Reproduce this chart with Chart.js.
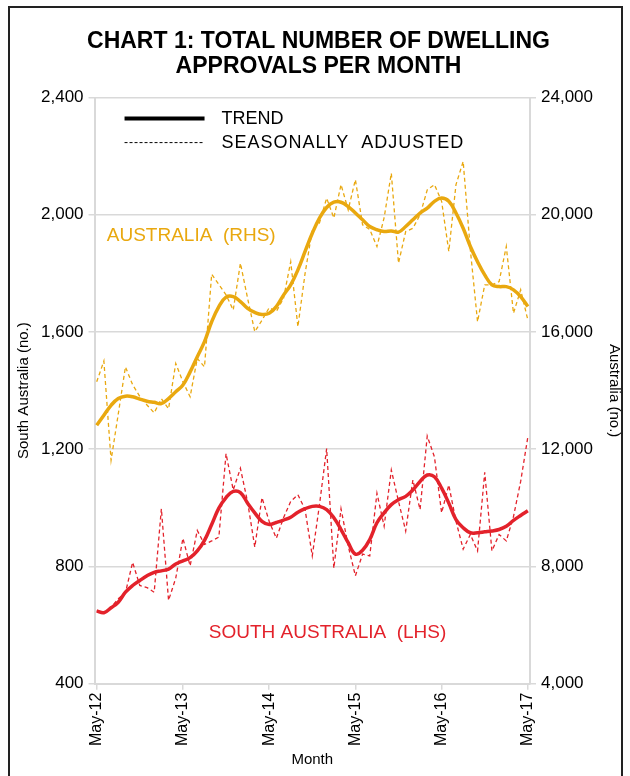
<!DOCTYPE html>
<html>
<head>
<meta charset="utf-8">
<script src="https://cdn.jsdelivr.net/npm/chart.js@4.4.1/dist/chart.umd.min.js"></script>
<style>
  body { margin: 0; background: #fff; }
  #wrap { position: relative; width: 630px; height: 776px; overflow: hidden; }
  #frame { position: absolute; left: 8px; top: 6px; width: 611px; height: 800px; border: 2px solid #222; }
  #myChart { position: absolute; left: 0; top: 0; }
</style>
</head>
<body>
<div id="wrap">
  <div id="frame"></div>
  <canvas id="myChart" width="630" height="776"></canvas>
</div>
<script>
document.addEventListener('DOMContentLoaded', function() {

    //month ticks shown on the x axis (one every 12 months, May-12 .. May-17)
    let xTickLabels = ['May-12', 'May-13', 'May-14', 'May-15', 'May-16', 'May-17'];

    //south australia (LHS), monthly May-12 .. May-17
    let saTrend = [648, 642, 659, 678, 712, 735, 752, 768, 780, 785,
        791, 808, 819, 830, 853, 889, 943, 999, 1035, 1056,
        1052, 1016, 983, 954, 943, 950, 958, 968, 985, 997,
        1005, 1005, 994, 966, 926, 881, 842, 855, 892, 949,
        983, 1011, 1028, 1039, 1061, 1090, 1112, 1106, 1067, 1016,
        960, 932, 915, 915, 918, 921, 926, 937, 957, 974,
        990];
    let saAdjusted = [648, 640, 660, 690, 710, 814, 735, 728, 712, 997,
        684, 760, 896, 802, 923, 875, 887, 900, 1185, 1061,
        1135, 1020, 866, 1035, 954, 896, 966, 1022, 1045, 994,
        836, 1010, 1202, 794, 997, 870, 768, 842, 836, 1050,
        937, 1129, 1022, 921, 1095, 994, 1245, 1174, 983, 1078,
        954, 859, 909, 853, 1121, 853, 909, 887, 970, 1090,
        1242];

    //australia (RHS)
    let ausTrend = [12820, 13160, 13500, 13730, 13810, 13790, 13710, 13640, 13600, 13560,
        13730, 13960, 14190, 14640, 15160, 15670, 16350, 16870, 17190, 17210,
        17040, 16810, 16670, 16600, 16640, 16870, 17260, 17610, 18120, 18750,
        19370, 19890, 20250, 20430, 20430, 20280, 20060, 19830, 19600, 19490,
        19430, 19450, 19410, 19600, 19830, 20060, 20230, 20460, 20570, 20460,
        20060, 19540, 18920, 18400, 17950, 17610, 17550, 17550, 17440, 17210,
        16870];
    let ausAdjusted = [14300, 15010, 11620, 13200, 14810, 14200, 13800, 13510, 13240, 13720,
        13380, 14930, 14300, 13790, 15100, 14810, 17970, 17620, 17270, 16750,
        18350, 17150, 16010, 16400, 16830, 16700, 17150, 18400, 16180, 18000,
        19490, 19720, 20570, 19890, 21030, 20170, 21200, 19660, 19500, 18920,
        19900, 21420, 18350, 19430, 19540, 20000, 20850, 21030, 20460, 18750,
        21030, 21820, 18800, 16350, 17610, 17610, 17720, 18920, 16640, 17440,
        16410];

    let orange = '#E9A80F';
    let red = '#E3222B';
    let gridGrey = '#D9D9D9';
    let font = 'Liberation Sans';

    //turn a plain list into {x: month index, y: value}
    function toPoints(values) {
        return values.map((v, i) => ({ x: i, y: v }));
    }

    //legend and series labels drawn inside the plot
    let labelsPlugin = {
        id: 'labelsPlugin',
        afterDatasetsDraw(chart) {
            let ctx = chart.ctx;
            let area = chart.chartArea;
            let xs = chart.scales.x;
            ctx.save();

            //legend
            let lx1 = area.left + 30, lx2 = area.left + 110;
            ctx.strokeStyle = '#000';
            ctx.lineWidth = 4;
            ctx.beginPath();
            ctx.moveTo(lx1, area.top + 21);
            ctx.lineTo(lx2, area.top + 21);
            ctx.stroke();
            ctx.lineWidth = 1;
            ctx.setLineDash([3, 2]);
            ctx.beginPath();
            ctx.moveTo(lx1, area.top + 45);
            ctx.lineTo(lx2, area.top + 45);
            ctx.stroke();
            ctx.setLineDash([]);
            ctx.fillStyle = '#000';
            ctx.font = '18px "' + font + '"';
            ctx.textBaseline = 'middle';
            ctx.fillText('TREND', lx2 + 17, area.top + 21);
            ctx.letterSpacing = '1px';
            ctx.fillText('SEASONALLY  ADJUSTED', lx2 + 17, area.top + 45);
            ctx.letterSpacing = '0px';

            //series names
            ctx.font = '19px "' + font + '"';
            ctx.fillStyle = orange;
            ctx.fillText('AUSTRALIA  (RHS)', xs.getPixelForValue(1.4), chart.scales.y1.getPixelForValue(19300));
            ctx.fillStyle = red;
            ctx.fillText('SOUTH AUSTRALIA  (LHS)', xs.getPixelForValue(15.6), chart.scales.y.getPixelForValue(575));
            ctx.restore();
        }
    };

    let ctx = document.getElementById('myChart').getContext('2d');

    let myChart = new Chart(ctx, {
        type: 'line',
        data: {
            datasets: [
                { label: 'Australia trend', data: toPoints(ausTrend), yAxisID: 'y1', borderColor: orange, borderWidth: 3.5, tension: 0.4, pointRadius: 0 },
                { label: 'Australia seasonally adjusted', data: toPoints(ausAdjusted), yAxisID: 'y1', borderColor: orange, borderWidth: 1.3, borderDash: [4, 3], tension: 0, pointRadius: 0 },
                { label: 'SA trend', data: toPoints(saTrend), yAxisID: 'y', borderColor: red, borderWidth: 3.5, tension: 0.4, pointRadius: 0 },
                { label: 'SA seasonally adjusted', data: toPoints(saAdjusted), yAxisID: 'y', borderColor: red, borderWidth: 1.3, borderDash: [4, 3], tension: 0, pointRadius: 0 }
            ]
        },
        options: {
            responsive: false,
            animation: false,
            layout: { padding: { left: 11, right: 4, top: 0, bottom: 7 } },
            plugins: {
                legend: { display: false },
                tooltip: { enabled: false },
                title: {
                    display: true,
                    text: ['CHART 1: TOTAL NUMBER OF DWELLING', 'APPROVALS PER MONTH'],
                    color: '#000',
                    font: { family: font, size: 23, weight: 'bold', lineHeight: 1.1 },
                    padding: { top: 29, bottom: 18 }
                }
            },
            scales: {
                x: {
                    type: 'linear',
                    min: -0.3,
                    max: 60.3,
                    afterBuildTicks: (axis) => {
                        axis.ticks = xTickLabels.map((t, i) => ({ value: i * 12 }));
                    },
                    ticks: {
                        autoSkip: false,
                        maxRotation: 90,
                        minRotation: 90,
                        color: '#000',
                        font: { family: font, size: 16 },
                        callback: (v) => xTickLabels[Math.round(v / 12)]
                    },
                    grid: { drawOnChartArea: false, color: gridGrey, lineWidth: 1.5, tickLength: 6 },
                    border: { color: gridGrey, width: 2 },
                    title: { display: true, text: 'Month', color: '#000', font: { family: font, size: 15 }, padding: { top: 2, bottom: 0 } }
                },
                y: {
                    position: 'left',
                    min: 400,
                    max: 2400,
                    ticks: {
                        stepSize: 400,
                        color: '#000',
                        font: { family: font, size: 17 },
                        padding: 5,
                        callback: (v) => v.toLocaleString('en-US')
                    },
                    grid: { color: gridGrey, lineWidth: 1.5, tickLength: 6 },
                    border: { color: gridGrey, width: 2 },
                    title: { display: true, text: 'South Australia (no.)', color: '#000', font: { family: font, size: 15 }, padding: { top: 4, bottom: 3 } }
                },
                y1: {
                    position: 'right',
                    min: 4000,
                    max: 24000,
                    ticks: {
                        stepSize: 4000,
                        color: '#000',
                        font: { family: font, size: 17 },
                        padding: 5,
                        callback: (v) => v.toLocaleString('en-US')
                    },
                    grid: { drawOnChartArea: false, color: gridGrey, lineWidth: 1.5, tickLength: 6 },
                    border: { color: gridGrey, width: 2 },
                    title: { display: true, text: 'Australia (no.)', color: '#000', font: { family: font, size: 15 }, padding: { top: 3, bottom: 7 } }
                }
            }
        },
        plugins: [labelsPlugin]
    });
});
</script>
</body>
</html>
